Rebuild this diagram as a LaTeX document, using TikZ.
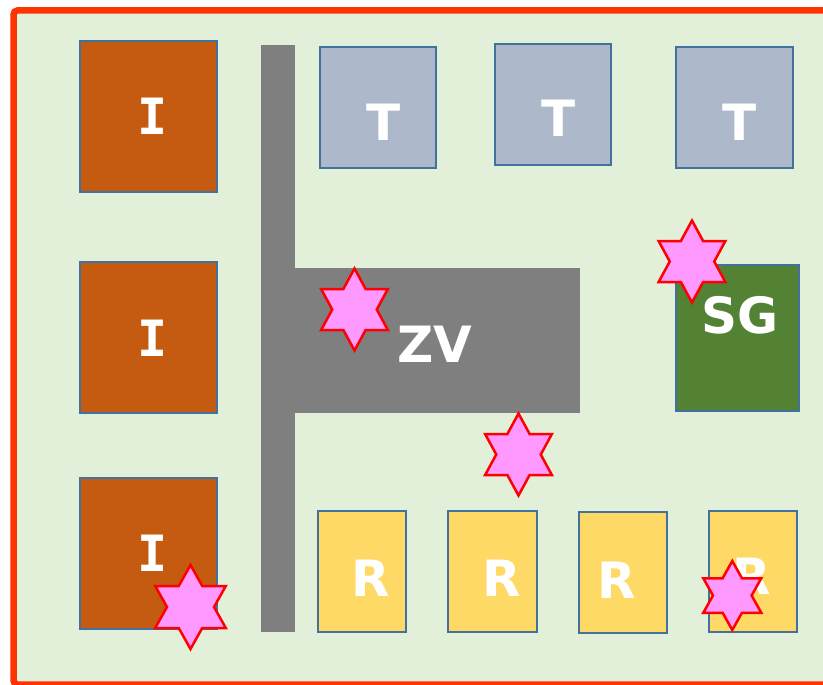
\documentclass[tikz,border=0pt]{standalone}
\usepackage{fontspec}
\setmainfont{DejaVu Sans}
\newfontfamily\serifI{DejaVu Sans Mono}
\definecolor{bgc}{HTML}{E2EFD9}
\definecolor{framec}{HTML}{FF3300}
\definecolor{edgec}{HTML}{41719C}
\definecolor{orangec}{HTML}{C55A11}
\definecolor{slatec}{HTML}{ADB9CA}
\definecolor{greenc}{HTML}{548235}
\definecolor{yellowc}{HTML}{FFD966}
\definecolor{grayc}{HTML}{7F7F7F}
\definecolor{starfill}{HTML}{FF99FF}
\definecolor{starline}{HTML}{FF0000}
\tikzset{
  box/.style={draw=edgec, line width=2pt, inner sep=0pt, outer sep=0pt, anchor=north west},
  road/.style={fill=grayc, draw=none, inner sep=0pt, outer sep=0pt, anchor=north west},
  lbl/.style={text=white, font=\fontsize{50}{60}\selectfont\bfseries, inner sep=0pt},
  lblI/.style={text=white, font=\serifI\fontsize{50}{60}\selectfont\bfseries, inner sep=0pt},
  starsty/.style={fill=starfill, draw=starline, line width=2.5pt, line join=miter},
}
\newcommand\hexstar[4]{%
  \begin{scope}[shift={(#1,#2)},xscale=#4]
    \draw[starsty] (90:#3) -- (60:{#3*0.57735}) -- (30:#3) -- (0:{#3*0.57735})
      -- (-30:#3) -- (-60:{#3*0.57735}) -- (-90:#3) -- (-120:{#3*0.57735})
      -- (-150:#3) -- (180:{#3*0.57735}) -- (150:#3) -- (120:{#3*0.57735}) -- cycle;
  \end{scope}}
\begin{document}
\begin{tikzpicture}[x=1pt,y=-1pt]
\useasboundingbox (0,0) rectangle (823,685);
% frame
\draw[fill=bgc, draw=framec, line width=6.5pt, rounded corners=4pt] (13.5,10.5) rectangle (840,684.5);
% roads
\node[road, minimum width=34pt, minimum height=587pt] (vroad) at (261,45) {};
\node[road, minimum width=286pt, minimum height=145pt] (hroad) at (294,268) {};
% I boxes
\node[box, fill=orangec, minimum width=137pt, minimum height=151pt] (i1) at (80,41) {};
\node[box, fill=orangec, minimum width=137pt, minimum height=151pt] (i2) at (80,262) {};
\node[box, fill=orangec, minimum width=137pt, minimum height=151pt] (i3) at (80,478) {};
% T boxes
\node[box, fill=slatec, minimum width=116pt, minimum height=121pt] (t1) at (320,47) {};
\node[box, fill=slatec, minimum width=116pt, minimum height=121pt] (t2) at (495,44) {};
\node[box, fill=slatec, minimum width=117pt, minimum height=121pt] (t3) at (676,47) {};
% SG
\node[box, fill=greenc, minimum width=123pt, minimum height=146pt] (sg) at (676,265) {};
% R boxes
\node[box, fill=yellowc, minimum width=88pt, minimum height=121pt] (r1) at (318,511) {};
\node[box, fill=yellowc, minimum width=89pt, minimum height=121pt] (r2) at (448,511) {};
\node[box, fill=yellowc, minimum width=88pt, minimum height=121pt] (r3) at (579,512) {};
\node[box, fill=yellowc, minimum width=88pt, minimum height=121pt] (r4) at (709,511) {};
% labels
\node[lblI] (li1) at (153,116) {I};
\node[lblI] (li2) at (153,338) {I};
\node[lblI] (li3) at (153,553) {I};
\node[lbl] (lt1) at (384,122) {T};
\node[lbl] (lt2) at (559,118) {T};
\node[lbl] (lt3) at (740,122) {T};
\node[lbl] (lzv) at (435,344) {ZV};
\node[lbl] (lsg) at (740.5,315) {SG};
\node[lbl] (lr1) at (371,578) {R};
\node[lbl] (lr2) at (502,578) {R};
\node[lbl] (lr3) at (617,580) {R};
\node[lbl] (lr4) at (751.5,576.5) {R};
% stars
\hexstar{354.5}{309.5}{41}{0.94}
\hexstar{692}{261.5}{41}{0.94}
\hexstar{518.5}{454.5}{41}{0.94}
\hexstar{190.5}{607}{42}{0.97}
\hexstar{732.3}{595.5}{34.5}{0.97}
\end{tikzpicture}
\end{document}
